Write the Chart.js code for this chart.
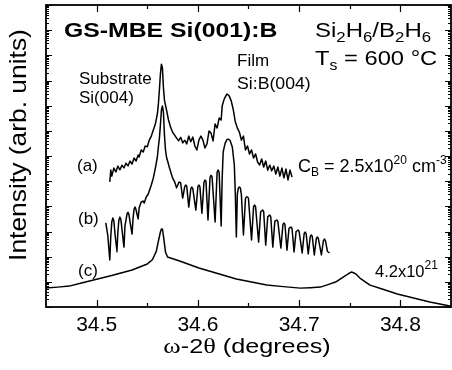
<!DOCTYPE html>
<html>
<head>
    <title>GS-MBE Si(001):B</title>
    <style>
        body { margin: 0; background: #fff; }
    </style>
    <script src="https://cdn.jsdelivr.net/npm/chart.js"></script>
</head>
<body>
    <canvas id="myChart" width="452" height="370"></canvas>
    <script>
        // omega-2theta en grados, intensidad en log10 (unidades arbitrarias)
        var aDeg = [34.513,34.514,34.515,34.517,34.519,34.521,34.523,34.525,34.527,34.529,34.531,34.533,34.535,34.537,34.539,34.541,34.542,34.544,34.546,34.548,34.550,34.552,34.554,34.556,34.558,34.560,34.561,34.562,34.563,34.564,34.565,34.566,34.567,34.569,34.571,34.573,34.575,34.577,34.579,34.581,34.583,34.585,34.587,34.589,34.591,34.593,34.595,34.597,34.599,34.601,34.603,34.605,34.607,34.609,34.611,34.613,34.615,34.617,34.619,34.621,34.623,34.624,34.626,34.628,34.629,34.631,34.633,34.635,34.637,34.639,34.641,34.643,34.645,34.647,34.649,34.651,34.653,34.655,34.657,34.659,34.661,34.663,34.665,34.667,34.669,34.671,34.673,34.675,34.677,34.679,34.681,34.683,34.685,34.687,34.689,34.691,34.693];
        var aLog = [4.97,5.44,5.20,5.52,5.36,5.60,5.44,5.64,5.52,5.72,5.60,5.80,5.68,5.92,5.80,6.04,5.96,6.24,6.16,6.40,6.36,6.63,6.79,7.03,7.27,7.67,8.07,8.62,9.26,9.65,9.50,8.70,8.22,7.83,7.43,7.15,6.95,6.83,6.71,6.60,6.75,6.52,6.63,6.48,6.79,6.56,6.75,6.40,6.24,6.63,6.79,6.63,6.32,6.48,6.99,6.91,6.60,7.27,7.11,7.51,7.43,7.99,8.26,8.42,8.46,8.38,8.18,7.83,7.35,7.11,6.95,6.63,6.79,6.24,6.40,6.08,6.24,5.92,6.08,5.76,5.64,5.88,5.56,5.80,5.44,5.64,5.40,5.60,5.28,5.56,5.20,5.52,5.13,5.48,5.05,5.44,5.16];

        var bDeg = [34.509,34.511,34.513,34.514,34.515,34.516,34.517,34.518,34.520,34.521,34.522,34.523,34.524,34.525,34.527,34.528,34.530,34.531,34.532,34.533,34.535,34.536,34.537,34.538,34.539,34.541,34.542,34.544,34.546,34.547,34.549,34.551,34.552,34.554,34.556,34.558,34.560,34.561,34.562,34.563,34.564,34.565,34.566,34.567,34.568,34.569,34.572,34.575,34.577,34.579,34.581,34.582,34.583,34.585,34.587,34.588,34.589,34.591,34.593,34.594,34.595,34.598,34.600,34.601,34.602,34.604,34.606,34.607,34.608,34.610,34.612,34.613,34.614,34.617,34.619,34.620,34.621,34.623,34.624,34.625,34.627,34.629,34.630,34.632,34.634,34.636,34.637,34.638,34.639,34.640,34.641,34.642,34.643,34.645,34.647,34.648,34.649,34.650,34.653,34.655,34.656,34.657,34.660,34.662,34.664,34.665,34.667,34.669,34.671,34.672,34.674,34.676,34.678,34.679,34.682,34.684,34.685,34.686,34.688,34.690,34.692,34.693,34.695,34.697,34.699,34.700,34.703,34.705,34.706,34.707,34.709,34.711,34.712,34.713,34.715,34.717,34.718,34.719,34.722,34.724,34.725,34.726,34.728,34.730];
        var bLog = [3.34,2.86,1.87,2.82,3.38,3.54,3.42,2.98,2.19,2.98,3.46,3.58,3.46,3.10,2.38,3.22,3.69,3.77,3.66,3.38,2.90,3.54,3.89,3.97,3.85,3.50,3.93,4.17,4.21,4.13,4.37,4.49,4.61,4.85,5.13,5.52,5.96,6.36,6.71,7.23,7.83,7.99,7.71,6.83,6.24,5.96,5.52,5.13,4.98,4.73,4.93,4.97,4.93,4.33,4.78,4.85,4.80,3.97,4.70,4.77,4.70,3.85,4.78,4.85,4.78,3.73,4.95,5.05,5.00,3.46,5.15,5.24,5.18,3.38,5.36,5.44,5.36,3.22,5.13,6.16,6.52,6.67,6.67,6.60,6.36,5.64,4.45,2.78,4.50,4.72,4.77,4.72,4.45,2.86,4.30,4.37,4.37,4.30,2.66,3.98,4.05,3.98,2.58,3.78,3.85,3.78,2.46,3.58,3.66,3.58,2.38,3.40,3.46,3.40,2.34,3.28,3.34,3.28,2.26,3.12,3.18,3.12,2.19,3.00,3.06,3.00,2.15,2.92,2.98,2.90,2.11,2.80,2.86,2.80,2.07,2.72,2.78,2.72,2.07,2.64,2.70,2.64,2.20,2.15];

        var cDeg = [34.450,34.473,34.493,34.513,34.535,34.550,34.555,34.559,34.561,34.563,34.564,34.565,34.566,34.568,34.570,34.582,34.601,34.638,34.668,34.701,34.721,34.736,34.745,34.752,34.756,34.760,34.770,34.797,34.829,34.849];
        var cLog = [0.75,0.83,1.03,1.23,1.47,1.71,1.87,2.22,2.62,2.98,3.10,3.10,2.82,2.19,1.99,1.83,1.55,1.11,0.87,0.75,0.79,0.99,1.23,1.39,1.31,1.15,0.87,0.52,0.20,0.04];

        var xTicks = [34.5, 34.6, 34.7, 34.8];
        var xMinorTicks = [34.55, 34.65, 34.75];
        var yDecades = [0,1,2,3,4,5,6,7,8,9,10,11,12];

        var SANS = '"Liberation Sans", Arial, sans-serif';
        var SERIF = '"Liberation Serif", "Times New Roman", serif';

        function toPoints(xs, ls) {
            return xs.map((x, i) => ({ x: x, y: Math.pow(10, ls[i]) }));
        }

        function setFont(ctx, p) {
            ctx.font = (p.bold ? 'bold ' : '') + p.size + 'px ' + (p.family || SANS);
        }
        function richWidth(ctx, parts) {
            var w = 0;
            parts.forEach(p => { setFont(ctx, p); w += ctx.measureText(p.t).width; });
            return w;
        }
        // texto con partes (subindices / superindices), sx = estiramiento horizontal
        function drawRich(ctx, x, y, parts, sx) {
            ctx.save();
            ctx.translate(x, y);
            ctx.scale(sx || 1, 1);
            var cx = 0;
            parts.forEach(p => {
                setFont(ctx, p);
                ctx.fillText(p.t, cx, p.dy || 0);
                cx += ctx.measureText(p.t).width;
            });
            ctx.restore();
        }

        var frame = {
            id: 'frame',
            afterDraw(chart) {
                var ctx = chart.ctx, a = chart.chartArea;
                var x = chart.scales.x, y = chart.scales.y;
                ctx.save();
                ctx.strokeStyle = '#000';
                ctx.lineWidth = 1.8;
                ctx.strokeRect(a.left, a.top, a.right - a.left, a.bottom - a.top);
                ctx.lineWidth = 1.2;
                ctx.beginPath();
                xTicks.concat(xMinorTicks).forEach(v => {
                    var px = Math.round(x.getPixelForValue(v)) + 0.5;
                    var len = xTicks.includes(v) ? 7 : 4;
                    ctx.moveTo(px, a.bottom); ctx.lineTo(px, a.bottom - len);
                    ctx.moveTo(px, a.top); ctx.lineTo(px, a.top + len);
                });
                yDecades.forEach(e => {
                    for (var k = 1; k <= 9; k++) {
                        if (e === 12 && k > 1) break;
                        var py = Math.round(y.getPixelForValue(k * Math.pow(10, e))) + 0.5;
                        var len = k === 1 ? 6 : 3;
                        ctx.moveTo(a.left, py); ctx.lineTo(a.left + len, py);
                        ctx.moveTo(a.right, py); ctx.lineTo(a.right - len, py);
                    }
                });
                ctx.stroke();

                // textos
                ctx.fillStyle = '#000';
                ctx.textBaseline = 'alphabetic';
                ctx.textAlign = 'left';
                drawRich(ctx, 64, 37, [{ t: 'GS-MBE Si(001):B', size: 21, bold: true }], 1.18);
                drawRich(ctx, 315, 37, [
                    { t: 'Si', size: 20 }, { t: '2', size: 14, dy: 5 }, { t: 'H', size: 20 }, { t: '6', size: 14, dy: 5 },
                    { t: '/B', size: 20 }, { t: '2', size: 14, dy: 5 }, { t: 'H', size: 20 }, { t: '6', size: 14, dy: 5 }
                ], 1.2);
                drawRich(ctx, 315, 65, [{ t: 'T', size: 21 }, { t: 's', size: 14, dy: 5 }, { t: ' = 600 °C', size: 21 }], 1.13);
                drawRich(ctx, 79, 84, [{ t: 'Substrate', size: 17 }]);
                drawRich(ctx, 79, 103, [{ t: 'Si(004)', size: 17 }]);
                drawRich(ctx, 237, 66, [{ t: 'Film', size: 17 }]);
                drawRich(ctx, 237, 89, [{ t: 'Si:B(004)', size: 17 }], 1.04);
                drawRich(ctx, 77, 171, [{ t: '(a)', size: 17 }]);
                drawRich(ctx, 78, 224, [{ t: '(b)', size: 17 }]);
                drawRich(ctx, 78, 276, [{ t: '(c)', size: 17 }]);
                drawRich(ctx, 298, 172, [
                    { t: 'C', size: 18 }, { t: 'B', size: 12, dy: 4 }, { t: ' = 2.5x10', size: 18 },
                    { t: '20', size: 12, dy: -8 }, { t: ' cm', size: 18 }, { t: '-3', size: 12, dy: -8 }
                ]);
                drawRich(ctx, 375, 277, [{ t: '4.2x10', size: 16.5 }, { t: '21', size: 12, dy: -8 }]);

                // titulo eje x
                var xt = [
                    { t: 'ω', size: 22, family: SERIF }, { t: '-2', size: 21 },
                    { t: 'θ', size: 22, family: SERIF }, { t: ' (degrees)', size: 21 }
                ];
                var sx = 1.2;
                drawRich(ctx, 247 - sx * richWidth(ctx, xt) / 2, 353, xt, sx);

                // titulo eje y
                ctx.translate(19, 145);
                ctx.rotate(-Math.PI / 2);
                ctx.scale(1.1, 1);
                ctx.textAlign = 'center';
                ctx.textBaseline = 'middle';
                ctx.font = '24px ' + SANS;
                ctx.fillText('Intensity (arb. units)', 0, 0);
                ctx.restore();
            }
        };

        var ctx = document.getElementById('myChart').getContext('2d');
        var myChart = new Chart(ctx, {
            type: 'line',
            data: {
                datasets: [
                    { label: '(a)', data: toPoints(aDeg, aLog) },
                    { label: '(b)', data: toPoints(bDeg, bLog) },
                    { label: '(c)', data: toPoints(cDeg, cLog) }
                ]
            },
            options: {
                responsive: false,
                animation: false,
                layout: { padding: { top: 5, right: 1, left: 0, bottom: 0 } },
                elements: {
                    point: { radius: 0 },
                    // tension minima: evita el "fast path" que agrupa puntos por columna
                    line: { borderColor: '#000', borderWidth: 1.5, tension: 0.01, borderJoinStyle: 'round' }
                },
                plugins: { legend: { display: false }, tooltip: { enabled: false } },
                scales: {
                    x: {
                        type: 'linear',
                        min: 34.45,
                        max: 34.85,
                        afterBuildTicks: s => { s.ticks = xTicks.map(v => ({ value: v })); },
                        afterFit: s => { s.height = 63; },
                        grid: { display: false, drawTicks: false },
                        border: { display: false },
                        ticks: {
                            color: '#000',
                            font: { family: SANS, size: 21 },
                            padding: 6,
                            maxRotation: 0,
                            callback: v => v.toFixed(1)
                        }
                    },
                    y: {
                        type: 'logarithmic',
                        min: 1,
                        max: 1e12,
                        afterFit: s => { s.width = 46; },
                        grid: { display: false },
                        border: { display: false },
                        ticks: { display: false }
                    }
                }
            },
            plugins: [frame]
        });
    </script>
</body>
</html>
